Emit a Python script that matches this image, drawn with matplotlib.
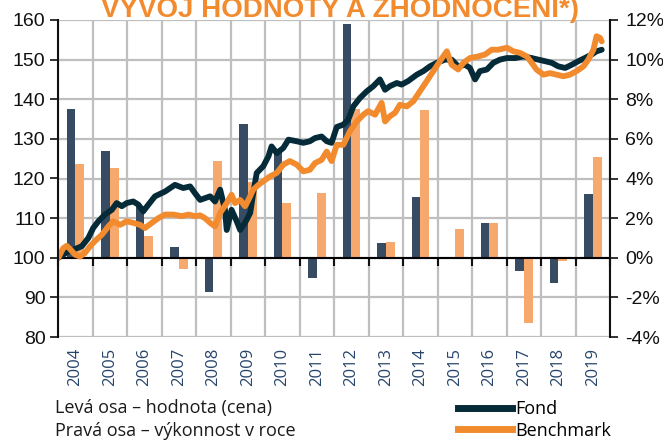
import matplotlib.pyplot as plt
import matplotlib.transforms as mtransforms
from matplotlib.lines import Line2D

# Rocni vykonnost (prava osa, %)
years = list(range(2004, 2020))
fond_pct = [7.5, 5.4, 2.6, 0.55, -1.75, 6.75, 5.5, -1.0, 11.8, 0.75, 3.05, 0.0, 1.75, -0.65, -1.25, 3.2]
bench_pct = [4.75, 4.55, 1.1, -0.55, 4.9, 3.8, 2.75, 3.25, 7.5, 0.8, 7.45, 1.45, 1.75, -3.3, -0.17, 5.1]

# Vyvoj hodnoty (leva osa)
fond_t = [2004.01, 2004.30, 2004.49, 2004.69, 2004.88, 2005.02, 2005.17, 2005.36, 2005.56, 2005.70,
          2005.85, 2005.99, 2006.18, 2006.33, 2006.47, 2006.62, 2006.81, 2007.10, 2007.39, 2007.63,
          2007.83, 2007.97, 2008.12, 2008.41, 2008.55, 2008.70, 2008.84, 2008.89, 2009.03, 2009.18,
          2009.28, 2009.42, 2009.57, 2009.66, 2009.76, 2009.95, 2010.10, 2010.19, 2010.34, 2010.53,
          2010.68, 2010.92, 2011.11, 2011.30, 2011.45, 2011.64, 2011.79, 2011.93, 2012.08, 2012.27,
          2012.41, 2012.56, 2012.75, 2012.95, 2013.14, 2013.33, 2013.48, 2013.62, 2013.82, 2013.96,
          2014.15, 2014.40, 2014.59, 2014.78, 2014.98, 2015.22, 2015.41, 2015.60, 2015.80, 2015.94,
          2016.09, 2016.23, 2016.43, 2016.62, 2016.81, 2017.01, 2017.25, 2017.49, 2017.73, 2017.92,
          2018.12, 2018.31, 2018.50, 2018.70, 2018.89, 2019.08, 2019.27, 2019.47, 2019.61, 2019.76]
fond_val = [100, 101.6, 102.2, 102.9, 105, 107.5, 109.2, 110.9, 112.1, 113.8,
            113, 113.8, 114.2, 113.4, 111.7, 113.4, 115.5, 116.7, 118.4, 117.6,
            118, 116.3, 114.6, 115.5, 114.2, 117.2, 112.1, 107, 112.1, 109.2,
            107, 108.8, 111.3, 116.3, 121.4, 123.1, 125.6, 128.1, 126.4, 127.7,
            129.8, 129.4, 129, 129.4, 130.2, 130.6, 129.4, 129, 133, 133.6,
            134.8, 138.2, 140.3, 142, 143.3, 145, 142.4, 143.3, 144.1, 143.7,
            144.6, 146.2, 147.1, 148.3, 149.2, 150, 150, 148.3, 148.7, 147.9,
            145, 147.1, 147.5, 149.2, 150, 150.4, 150.4, 150.8, 150.4, 150,
            149.6, 149.2, 148.3, 147.9, 148.7, 149.6, 150.4, 151.3, 152.1, 152.5]

bench_t = [2004.01, 2004.15, 2004.25, 2004.35, 2004.49, 2004.64, 2004.78, 2004.93, 2005.07, 2005.27,
           2005.46, 2005.60, 2005.80, 2005.99, 2006.18, 2006.38, 2006.52, 2006.72, 2006.91, 2007.10,
           2007.34, 2007.59, 2007.78, 2007.97, 2008.12, 2008.26, 2008.41, 2008.55, 2008.70, 2008.89,
           2009.03, 2009.13, 2009.28, 2009.42, 2009.52, 2009.66, 2009.81, 2009.95, 2010.14, 2010.34,
           2010.53, 2010.72, 2010.92, 2011.11, 2011.30, 2011.45, 2011.64, 2011.79, 2011.93, 2012.08,
           2012.27, 2012.46, 2012.66, 2012.85, 2012.99, 2013.19, 2013.38, 2013.48, 2013.62, 2013.77,
           2013.91, 2014.11, 2014.30, 2014.49, 2014.69, 2014.88, 2015.07, 2015.27, 2015.41, 2015.60,
           2015.75, 2015.94, 2016.18, 2016.38, 2016.57, 2016.76, 2017.01, 2017.20, 2017.39, 2017.59,
           2017.73, 2017.87, 2018.07, 2018.26, 2018.45, 2018.65, 2018.84, 2019.03, 2019.23, 2019.37,
           2019.52, 2019.61, 2019.71, 2019.76]
bench_val = [100, 102.4, 103, 102.2, 100.8, 100.3, 101.2, 102.9, 104.2, 105.8,
             107.9, 109.2, 108.3, 109.2, 108.8, 108.3, 107.5, 108.8, 110, 110.9,
             110.9, 110.5, 110.9, 110.5, 110.7, 110, 108.8, 107.9, 111.3, 113.8,
             115.9, 113.8, 114.6, 113, 114.6, 117.2, 118.4, 119.3, 120.5, 121.4,
             123.5, 124.4, 123.5, 121.8, 122.2, 123.9, 124.7, 126.8, 124.4, 128.5,
             128.5, 131.9, 134.4, 136.1, 137, 136.1, 139.1, 134.4, 135.7, 136.6,
             138.6, 138.2, 139.5, 142, 144.6, 147.1, 149.6, 152.1, 148.7, 147.5,
             149.2, 150.4, 150.8, 151.3, 152.5, 152.5, 153, 152.1, 151.7, 150.8,
             149.2, 147.5, 146.2, 146.6, 146.2, 145.8, 146.2, 147.1, 148.3, 150,
             152.5, 155.9, 155.5, 154.6]

pct_ticks = list(range(-4, 13, 2))
val_ticks = list(range(80, 161, 10))

NARROW = ['Liberation Sans Narrow', 'Liberation Sans', 'DejaVu Sans']
TEXT = ['Open Sans', 'DejaVu Sans']
c_fond = '#062b38'
c_bench = '#f28a2e'
c_fond_bar = '#374b63'
c_bench_bar = '#f7a86c'
c_grid = '#bfbfbf'

fig = plt.figure(figsize=(6.63, 4.41), dpi=100)
ax = fig.add_axes([58 / 663, 104 / 441, 552 / 663, 317 / 441])
ax.set_zorder(1)
ax.patch.set_visible(False)
ax2 = ax.twinx()
ax2.set_zorder(2)

# mrizka
for v in pct_ticks:
    ax.axhline(v, color=c_grid, lw=1.6, zorder=1)
for y in range(2004, 2021):
    ax.axvline(y, color=c_grid, lw=1.6, zorder=1)

# sloupce - rocni vykonnost
ax.bar([y + 0.25 for y in years], fond_pct, width=0.25, align='edge', color=c_fond_bar, zorder=2)
ax.bar([y + 0.5 for y in years], bench_pct, width=0.26, align='edge', color=c_bench_bar, zorder=2)
ax.set_xlim(2004, 2020)
ax.set_ylim(-4, 12)
ax.yaxis.tick_right()
ax.set_yticks(pct_ticks)
ax.set_yticklabels([f'{v}%' for v in pct_ticks], family=NARROW, fontsize=14)
ax.set_xticks(range(2004, 2021))
ax.tick_params(axis='x', labelbottom=False, length=6, width=1.5, direction='out', colors='#111111')
ax.tick_params(axis='y', left=False, labelleft=False, right=True, labelright=True,
               length=6, width=1.2, pad=5, colors='#111111')
ax.spines['bottom'].set_position(('data', 0))
ax.spines['bottom'].set_linewidth(1.5)
ax.spines['bottom'].set_zorder(3)
for s in ['top', 'left', 'right']:
    ax.spines[s].set_visible(False)

# roky pod grafem
trans = mtransforms.blended_transform_factory(ax.transData, ax.transAxes)
for y in years:
    ax.text(y + 0.5, -0.035, str(y), transform=trans, rotation=90, ha='center', va='top',
            fontsize=12, color='#27456b', family=TEXT)

# cary - vyvoj hodnoty
ax2.plot(fond_t, fond_val, color=c_fond, lw=4.2, solid_joinstyle='round', solid_capstyle='round')
ax2.plot(bench_t, bench_val, color=c_bench, lw=4.2, solid_joinstyle='round', solid_capstyle='round')
ax2.set_ylim(80, 160)
ax2.set_yticks(val_ticks)
ax2.set_yticklabels([str(v) for v in val_ticks], family=NARROW, fontsize=14)
ax2.tick_params(axis='y', left=True, labelleft=True, right=False, labelright=False,
                length=6, width=1.2, pad=3, colors='#111111')
for s in ['top', 'bottom']:
    ax2.spines[s].set_visible(False)
for s in ['left', 'right']:
    ax2.spines[s].set_linewidth(1.5)
    ax2.spines[s].set_color('#111111')

# nadpis (oriznuty nahore)
fig.text(0.513, 0.962, 'VÝVOJ HODNOTY A ZHODNOCENÍ*)', ha='center', va='baseline',
         fontsize=20, fontweight='bold', color=c_bench, family=NARROW)

# popisky
fig.text(55 / 663, 1 - 413 / 441, 'Levá osa – hodnota (cena)', ha='left', va='baseline',
         fontsize=13, color='#1a1a1a', family=TEXT)
fig.text(55 / 663, 1 - 436 / 441, 'Pravá osa – výkonnost v roce', ha='left', va='baseline',
         fontsize=13, color='#1a1a1a', family=TEXT)

handles = [Line2D([], [], color=c_fond, lw=5), Line2D([], [], color=c_bench, lw=5)]
fig.legend(handles, ['Fond', 'Benchmark'], loc='upper left', bbox_to_anchor=(458 / 663, 1 - 400 / 441),
           frameon=False, handlelength=3.0, handletextpad=0.15, labelspacing=0.2,
           borderpad=0, borderaxespad=0, prop={'family': TEXT, 'size': 13})

fig.savefig('out.png', dpi=100)
